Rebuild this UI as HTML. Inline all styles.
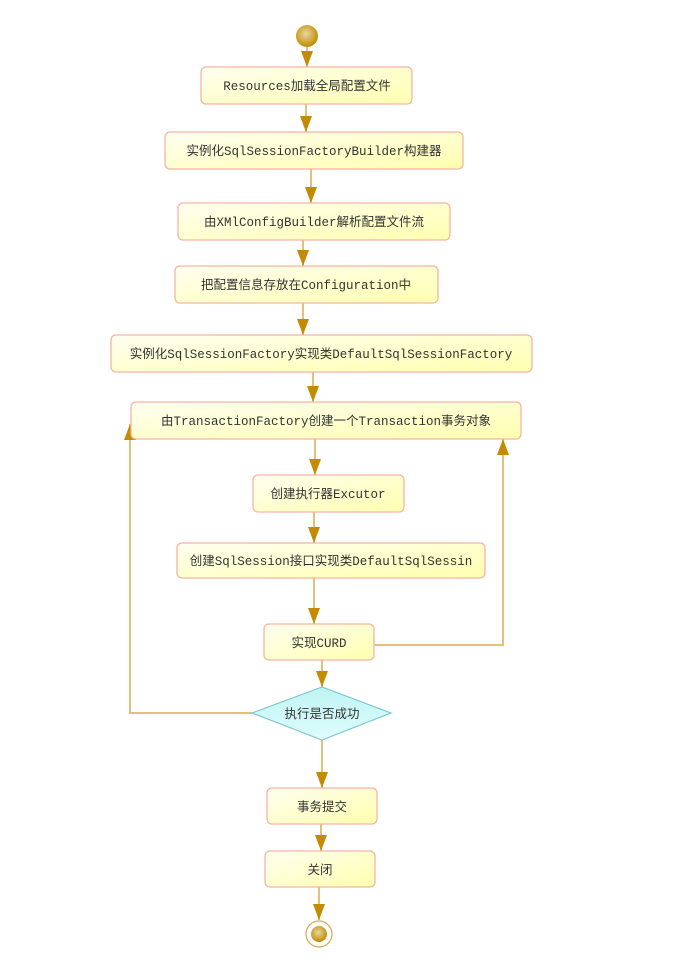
<!DOCTYPE html>
<html><head><meta charset="utf-8"><style>
body{margin:0;background:#fff;}
svg text{font-family:"Liberation Mono","Noto Sans CJK SC",monospace;font-size:12.5px;fill:#333;}
</style></head><body>
<svg width="693" height="961" xmlns="http://www.w3.org/2000/svg">
<defs>
<linearGradient id="g" x1="0" y1="0" x2="1" y2="1"><stop offset="0" stop-color="#fffff0"/><stop offset="1" stop-color="#ffffb0"/></linearGradient>
<linearGradient id="d" x1="0" y1="0" x2="0" y2="1"><stop offset="0" stop-color="#bff4f4"/><stop offset="1" stop-color="#dffcfc"/></linearGradient>
<radialGradient id="c" cx="0.45" cy="0.4" r="0.6"><stop offset="0" stop-color="#e8d8a0"/><stop offset="1" stop-color="#c08a00"/></radialGradient>
<marker id="a" markerWidth="16" markerHeight="12" refX="16" refY="6" orient="auto" markerUnits="userSpaceOnUse" viewBox="0 0 16 12"><path d="M0,0 L16,6 L0,12 Z" fill="#c48a00"/></marker>
</defs>
<g stroke="#e2c27a" stroke-width="2" fill="none">
<line x1="307" y1="47" x2="307" y2="67" marker-end="url(#a)"/>
<line x1="306" y1="104" x2="306" y2="132" marker-end="url(#a)"/>
<line x1="311" y1="169" x2="311" y2="203" marker-end="url(#a)"/>
<line x1="303" y1="240" x2="303" y2="266" marker-end="url(#a)"/>
<line x1="303" y1="303" x2="303" y2="335" marker-end="url(#a)"/>
<line x1="313" y1="372" x2="313" y2="402" marker-end="url(#a)"/>
<line x1="315" y1="439" x2="315" y2="475" marker-end="url(#a)"/>
<line x1="314" y1="512" x2="314" y2="543" marker-end="url(#a)"/>
<line x1="314" y1="578" x2="314" y2="624" marker-end="url(#a)"/>
<line x1="322" y1="660" x2="322" y2="687" marker-end="url(#a)"/>
<line x1="322" y1="740" x2="322" y2="788" marker-end="url(#a)"/>
<line x1="321" y1="824" x2="321" y2="851" marker-end="url(#a)"/>
<line x1="319" y1="887" x2="319" y2="920" marker-end="url(#a)"/>
<polyline points="252,713 130,713 130,424" marker-end="url(#a)"/>
<polyline points="374,645 503,645 503,439" marker-end="url(#a)"/>
</g>
<circle cx="307" cy="36" r="11" fill="url(#c)"/>
<g fill="url(#g)" stroke="#f6b4a4" stroke-width="1.3">
<rect x="201" y="67" width="211" height="37" rx="5"/>
<rect x="165" y="132" width="298" height="37" rx="5"/>
<rect x="178" y="203" width="272" height="37" rx="5"/>
<rect x="175" y="266" width="263" height="37" rx="5"/>
<rect x="111" y="335" width="421" height="37" rx="5"/>
<rect x="131" y="402" width="390" height="37" rx="5"/>
<rect x="253" y="475" width="151" height="37" rx="5"/>
<rect x="177" y="543" width="308" height="35" rx="5"/>
<rect x="264" y="624" width="110" height="36" rx="5"/>
<rect x="267" y="788" width="110" height="36" rx="5"/>
<rect x="265" y="851" width="110" height="36" rx="5"/>
</g>
<polygon points="252,713 322,687 391,713 322,740" fill="url(#d)" stroke="#7cc8cc" stroke-width="1.2"/>
<circle cx="319" cy="934" r="13" fill="#fff" stroke="#d9a850" stroke-width="1.2"/>
<circle cx="319" cy="934" r="8" fill="url(#c)"/>
<g text-anchor="middle">
<text x="307" y="90">Resources加载全局配置文件</text>
<text x="314" y="155">实例化SqlSessionFactoryBuilder构建器</text>
<text x="314" y="226">由XMlConfigBuilder解析配置文件流</text>
<text x="306" y="289">把配置信息存放在Configuration中</text>
<text x="321" y="358">实例化SqlSessionFactory实现类DefaultSqlSessionFactory</text>
<text x="326" y="425">由TransactionFactory创建一个Transaction事务对象</text>
<text x="328" y="498">创建执行器Excutor</text>
<text x="331" y="565">创建SqlSession接口实现类DefaultSqlSessin</text>
<text x="319" y="647">实现CURD</text>
<text x="322" y="718">执行是否成功</text>
<text x="322" y="811">事务提交</text>
<text x="320" y="874">关闭</text>
</g>
</svg>
</body></html>
